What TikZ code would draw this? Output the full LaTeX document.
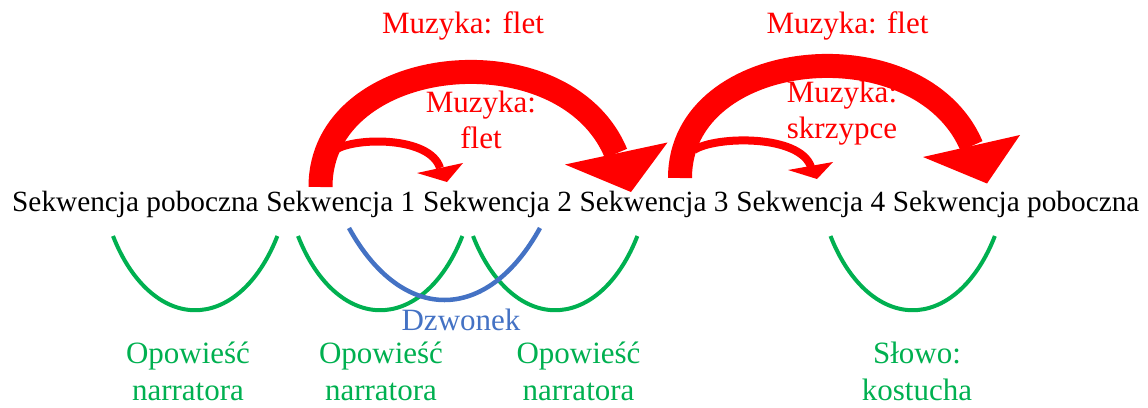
\documentclass[tikz,border=0pt]{standalone}
\usepackage{fontspec}
\setmainfont{Liberation Serif}
\usetikzlibrary{calc}
\definecolor{arrred}{HTML}{FF0000}
\definecolor{arcgreen}{HTML}{00B050}
\definecolor{arcblue}{HTML}{4472C4}
\tikzset{
  seq/.style={inner sep=0pt, anchor=base west, font=\fontsize{29.3}{35}\selectfont},
  redlbl/.style={inner sep=0pt, anchor=base, text=arrred, align=center, font=\fontsize{31}{36}\selectfont},
  greenlbl/.style={inner sep=0pt, anchor=base, text=arcgreen, align=center, font=\fontsize{31}{37}\selectfont},
  bluelbl/.style={inner sep=0pt, anchor=base, text=arcblue, font=\fontsize{31}{37}\selectfont},
  bigshaft/.style={draw=arrred, line width=24pt, line cap=butt},
  smallshaft/.style={draw=arrred, line width=8pt, line cap=butt},
  arrowhead/.style={fill=arrred, draw=none},
  greenarc/.style={draw=arcgreen, line width=4pt},
  bluearc/.style={draw=arcblue, line width=4.5pt},
}
\begin{document}
\begin{tikzpicture}[x=1pt, y=1pt]
\useasboundingbox (0,0) rectangle (1148,-407);

% the row of sequences
\node[seq] (s0) at (12,-211) {Sekwencja poboczna};
\node[seq] (s1) at ($(s0.base east)+(7.33,0)$) {Sekwencja 1};
\node[seq] (s2) at ($(s1.base east)+(7.33,0)$) {Sekwencja 2};
\node[seq] (s3) at ($(s2.base east)+(7.33,0)$) {Sekwencja 3};
\node[seq] (s4) at ($(s3.base east)+(7.33,0)$) {Sekwencja 4};
\node[seq] (s5) at ($(s4.base east)+(7.33,0)$) {Sekwencja poboczna};

% music arrows: large
\coordinate (a1s) at (320.5,-187);
\coordinate (a1e) at (616,-153.5);
\draw[bigshaft] (a1s) .. controls (320.5,-52) and (564.7,-29.3) .. (a1e);
\fill[arrowhead] (565,-164.5) -- (667.5,-142.5) -- (631,-192) -- cycle;

\coordinate (a2s) at (680,-178);
\coordinate (a2e) at (971.5,-146);
\draw[bigshaft] (a2s) .. controls (680,-46) and (920,-24.6) .. (a2e);
\fill[arrowhead] (923,-157) -- (1020,-135) -- (987,-183.5) -- cycle;

% music arrows: small
\coordinate (b1s) at (335,-150);
\coordinate (b1e) at (440,-168);
\draw[smallshaft] (b1s) .. controls (355,-137) and (430,-136) .. (b1e);
\fill[arrowhead] (417,-173) -- (463,-163) -- (447,-182) -- cycle;

\coordinate (b2s) at (694,-150);
\coordinate (b2e) at (811,-167);
\draw[smallshaft] (b2s) .. controls (715,-136) and (800,-134) .. (b2e);
\fill[arrowhead] (788,-170) -- (833,-162) -- (817,-179) -- cycle;

% music labels (base anchor sits on the last line)
\node[redlbl] (m1) at (463,-33) {Muzyka: flet};
\node[redlbl] (m2) at (847.5,-33) {Muzyka: flet};
\node[redlbl] (m3) at (481,-148) {Muzyka:\\flet};
\node[redlbl] (m4) at (842,-138.3) {Muzyka:\\skrzypce};

% narration arcs
\draw[greenarc] (113,-236) arc[start angle=213, end angle=327, x radius=98, y radius=163];
\draw[greenarc] (298,-236) arc[start angle=213, end angle=327, x radius=98, y radius=163];
\draw[greenarc] (473,-236) arc[start angle=213, end angle=327, x radius=98, y radius=163];
\draw[greenarc] (830.5,-236) arc[start angle=213, end angle=327, x radius=98, y radius=163];
\draw[bluearc] (349,-228) .. controls (402,-324) and (487,-324) .. (540,-228);

% narration labels
\node[bluelbl] (d1) at (461,-330) {Dzwonek};
\node[greenlbl] (o1) at (188,-400) {Opowieść\\narratora};
\node[greenlbl] (o2) at (381,-400) {Opowieść\\narratora};
\node[greenlbl] (o3) at (578.5,-400) {Opowieść\\narratora};
\node[greenlbl] (k1) at (917,-400) {Słowo:\\kostucha};
\end{tikzpicture}
\end{document}
